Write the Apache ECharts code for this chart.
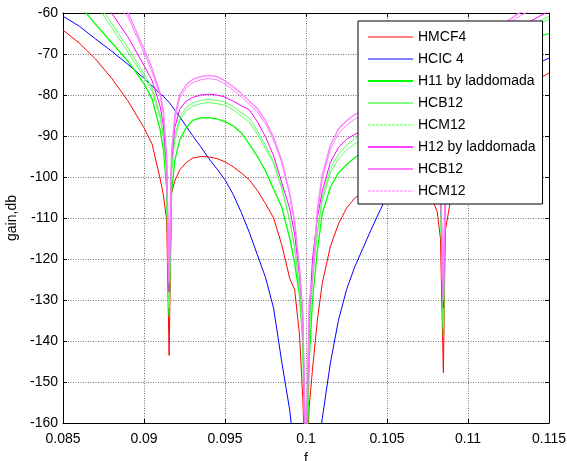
<!DOCTYPE html>
<html>
<head>
<meta charset="utf-8">
<script src="https://cdn.jsdelivr.net/npm/echarts@6/dist/echarts.min.js"></script>
<style>
html,body{margin:0;padding:0;background:#fff;}
#chart{width:567px;height:461px;}
</style>
</head>
<body>
<div id="chart"></div>
<script>
// frequency samples (f)
const F = [0.085, 0.086, 0.087, 0.088, 0.089, 0.090, 0.0905, 0.091, 0.0912, 0.0914, 0.09155, 0.0917, 0.0919, 0.0922, 0.0926, 0.093, 0.0935, 0.094, 0.0945, 0.095, 0.0955, 0.096, 0.0965, 0.097, 0.0975, 0.098, 0.0985, 0.099, 0.0993, 0.0996, 0.0998, 0.1, 0.1002, 0.1004, 0.1007, 0.101, 0.1015, 0.102, 0.1025, 0.103, 0.1035, 0.104, 0.105, 0.106, 0.107, 0.1078, 0.1081, 0.1083, 0.10848, 0.1086, 0.1088, 0.109, 0.110, 0.111, 0.112, 0.113, 0.114, 0.115];

// gain, dB
const HMCF4 = [-64.2, -67.3, -71.2, -75.9, -81.4, -88.0, -92.0, -100.5, -104.5, -110.5, -143.5, -104, -101, -98.3, -96.5, -95.4, -95.0, -95.1, -95.5, -96.3, -97.5, -99, -100.7, -103.3, -106.5, -110, -116.5, -124.8, -127.5, -138.5, -154, -175, -156, -147, -135, -126, -117, -111.5, -107.6, -105.2, -103.8, -101.5, -97.5, -95.5, -97, -105.5, -108.5, -115, -147.7, -113, -108.5, -104, -95, -88.5, -83.5, -79.8, -77, -74.6];
const HCIC4 = [-60.8, -63.2, -66.3, -69.3, -72.5, -75.9, -77.8, -79.7, -80.3, -81.2, -81.8, -82.6, -83.7, -85.3, -87.6, -89.9, -92.6, -95.5, -98, -100.7, -104.2, -108.6, -113.5, -119, -124.5, -132, -145, -157, -168, -185, -200, -220, -200, -185, -168, -159, -145.5, -135, -127.5, -122, -117.5, -113, -104.5, -99.5, -95, -91.5, -90.4, -89.6, -89, -88.5, -87.8, -87, -83, -79.5, -77, -74.8, -72.8, -71.0];
const H11 = [-53.5, -58, -62.7, -67.2, -71.7, -77.2, -81, -88.5, -93.5, -103, -134, -104, -96, -91, -88, -86.2, -85.6, -85.5, -85.8, -86.5, -87.5, -89.2, -92, -95, -98.5, -103, -107.3, -115, -121, -129, -140, -180, -145, -130, -118, -109, -102.5, -99, -97, -95.3, -94, -92.5, -89.5, -88.5, -90, -94.5, -98, -104, -139, -102, -95, -88, -79, -73.5, -70, -67.8, -66.2, -65];
const HCB12g = [-48.5, -52, -56.8, -62.5, -68.5, -74.8, -78.3, -84.8, -89.8, -99.5, -132, -98, -90, -85.5, -83, -82.0, -81.3, -81.1, -81.3, -81.7, -82.8, -84.3, -85.6, -88.8, -92.3, -96.2, -102.4, -110.5, -117, -127, -138, -178, -138, -124, -113, -105, -98, -94.5, -92.2, -90.7, -89.6, -88.5, -86, -85, -86.5, -91, -95, -102, -137, -100, -92, -86.5, -77, -71.5, -67.8, -65, -62.8, -60.8];
const HCM12g = [-49.5, -53, -57.8, -63.5, -69.5, -75.6, -79.1, -85.6, -90.6, -100.5, -131, -99, -91, -86.3, -83.8, -82.8, -82.1, -81.9, -82.1, -82.5, -83.6, -85.1, -86.6, -89.6, -93, -96.8, -102.8, -110.8, -117.5, -127.5, -138.5, -176, -139, -125, -114, -106, -99, -95.6, -93.4, -92, -90.8, -89.5, -87, -86, -87.5, -92, -96, -103, -136, -101, -93, -87.5, -78, -72.5, -68.7, -65.8, -63.5, -61.5];
const H12 = [-50, -53, -56.3, -60, -65.8, -72.8, -76.5, -82.8, -87.5, -97.5, -128, -96, -88, -83.5, -81.5, -80.6, -80.0, -79.8, -80.0, -80.5, -81.5, -82.6, -83.6, -86.5, -90.2, -94.8, -101.3, -107.8, -114, -124, -134, -172, -134, -120, -110, -103.5, -96.5, -92.8, -90.8, -89.6, -88.8, -87.8, -85, -84, -85.5, -90, -94, -101, -132, -99, -91, -85, -75, -69.5, -66, -63.7, -61.7, -59.5];
const HCB12m = [-46, -49.5, -53, -56.5, -59.8, -68.8, -73.5, -79.5, -84, -95, -126, -94, -85, -80, -77.5, -76.2, -75.5, -75.2, -75.5, -76.5, -78, -79.6, -81.5, -83.3, -86.2, -90.3, -95.9, -104, -111, -122, -133, -170, -130, -125, -108, -99.5, -92.3, -88.3, -86.3, -84.8, -84, -83.2, -80.5, -79.5, -81, -86, -90.5, -98, -130, -97, -88, -80, -71.5, -66.8, -63.3, -60.4, -58.2, -56.5];
const HCM12m = [-47, -50.5, -54, -57.5, -60.8, -69.8, -74.4, -80.3, -84.8, -95.8, -125, -94.8, -85.8, -80.8, -78.3, -77.0, -76.3, -76.0, -76.3, -77.3, -78.8, -80.4, -82.3, -84.1, -87, -91, -96.5, -104.5, -111.5, -122.5, -133.5, -169, -131, -126, -109, -100.5, -93.3, -89.4, -87.4, -85.9, -85, -84, -81.3, -80.3, -81.8, -86.8, -91.3, -98.8, -129, -97.8, -88.8, -80.8, -72.3, -67.6, -64, -61.2, -59, -57.3];

const X_TICKS = [0.085, 0.09, 0.095, 0.1, 0.105, 0.11, 0.115];
const Y_TICKS = [-160, -150, -140, -130, -120, -110, -100, -90, -80, -70, -60];

const SERIES = [
  {name: 'HMCF4', data: HMCF4, color: '#ff0000', width: 1, legendWidth: 1, legendType: 'solid'},
  {name: 'HCIC 4', data: HCIC4, color: '#0000ff', width: 1, legendWidth: 1, legendType: 'solid'},
  {name: 'H11 by laddomada', data: H11, color: '#00ff00', width: 1.3, legendWidth: 2, legendType: 'solid'},
  {name: 'HCB12', data: HCB12g, color: '#5cff5c', width: 1, legendWidth: 1.3, legendType: 'solid'},
  {name: 'HCM12', data: HCM12g, color: '#5cff5c', width: 1, legendWidth: 1, legendType: [3, 1]},
  {name: 'H12 by laddomada', data: H12, color: '#ff00ff', width: 1, legendWidth: 1.3, legendType: 'solid'},
  {name: 'HCB12 ', data: HCB12m, color: '#ff7dff', width: 1.3, legendWidth: 2, legendType: 'solid'},
  {name: 'HCM12 ', data: HCM12m, color: '#ff7dff', width: 1, legendWidth: 1, legendType: [3, 1]}
];

const FONT = "'Liberation Sans', Arial, sans-serif";
const chart = echarts.init(document.getElementById('chart'), null, {renderer: 'canvas'});

const fmtX = v => String(+v.toFixed(3));
const tickCommon = {show: true, inside: true, length: 4, lineStyle: {color: '#000', width: 1}};

chart.setOption({
  animation: false,
  backgroundColor: '#fff',
  grid: {left: 63, right: 18, top: 13, bottom: 38, show: false, containLabel: false, outerBoundsMode: 'none'},
  xAxis: [
    {
      type: 'value', position: 'bottom', min: X_TICKS[0], max: X_TICKS[X_TICKS.length - 1], interval: 0.005,
      name: 'f', nameLocation: 'middle', nameGap: 29,
      nameTextStyle: {fontFamily: FONT, fontSize: 14, color: '#000'},
      axisLine: {show: true, onZero: false, lineStyle: {color: '#000', width: 1}},
      axisTick: tickCommon,
      axisLabel: {margin: 9, fontFamily: FONT, fontSize: 14, color: '#000', formatter: fmtX, showMinLabel: true, showMaxLabel: true, hideOverlap: false},
      splitLine: {show: true, lineStyle: {color: '#707070', type: [1, 1.5], width: 1}}
    },
    {
      type: 'value', position: 'top', min: X_TICKS[0], max: X_TICKS[X_TICKS.length - 1], interval: 0.005,
      axisLine: {show: true, onZero: false, lineStyle: {color: '#000', width: 1}},
      axisTick: tickCommon, axisLabel: {show: false}, splitLine: {show: false}
    }
  ],
  yAxis: [
    {
      type: 'value', position: 'left', min: Y_TICKS[0], max: Y_TICKS[Y_TICKS.length - 1], interval: 10,
      name: 'gain,db', nameLocation: 'middle', nameGap: 36, nameRotate: 90,
      nameTextStyle: {fontFamily: FONT, fontSize: 14, color: '#000'},
      axisLine: {show: true, onZero: false, lineStyle: {color: '#000', width: 1}},
      axisTick: tickCommon,
      axisLabel: {margin: 5, fontFamily: FONT, fontSize: 14, color: '#000'},
      splitLine: {show: true, lineStyle: {color: '#707070', type: [1, 1.5], width: 1}}
    },
    {
      type: 'value', position: 'right', min: Y_TICKS[0], max: Y_TICKS[Y_TICKS.length - 1], interval: 10,
      axisLine: {show: true, onZero: false, lineStyle: {color: '#000', width: 1}},
      axisTick: tickCommon, axisLabel: {show: false}, splitLine: {show: false}
    }
  ],
  legend: {
    orient: 'vertical', left: 358, top: 21,
    backgroundColor: '#fff', borderColor: '#000', borderWidth: 1,
    padding: [9, 7, 6, 9], itemWidth: 45, itemHeight: 14, itemGap: 8,
    itemStyle: {opacity: 0},
    textStyle: {fontFamily: FONT, fontSize: 14, color: '#000'},
    data: SERIES.map(s => ({name: s.name, lineStyle: {width: s.legendWidth, type: s.legendType}}))
  },
  series: SERIES.map(s => ({
    name: s.name, type: 'line', xAxisIndex: 0, yAxisIndex: 0,
    symbol: 'none', smooth: false, clip: true,
    lineStyle: {color: s.color, width: s.width},
    itemStyle: {color: s.color},
    data: F.map((f, i) => [f, s.data[i]])
  }))
});
</script>
</body>
</html>
